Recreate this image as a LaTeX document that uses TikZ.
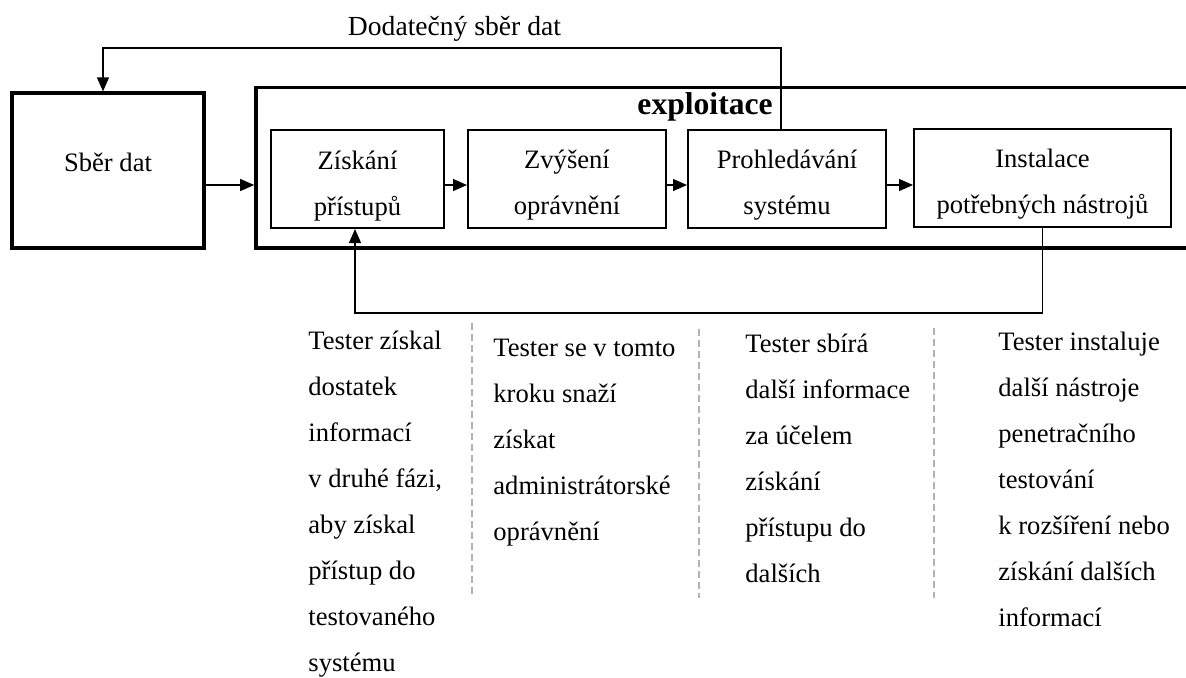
\documentclass[tikz,border=0pt]{standalone}
\usepackage{fontspec}
\setmainfont{Liberation Serif}
\usetikzlibrary{arrows.meta,positioning,calc}

\newcommand{\twolines}[2]{\rule{0pt}{16.2pt}#1\\#2\rule[-3pt]{0pt}{3pt}}

\begin{document}
\begin{tikzpicture}[
x=0.5pt, y=-0.5pt,
>={Triangle[length=7pt,width=6pt]},
txt/.style = {font=\fontsize{13.3pt}{23pt}\selectfont},
phase-node/.style = {rectangle,draw=black,line width=1pt,minimum height=49pt,align=center,inner sep=0pt,txt},
note-node/.style = {anchor=north west,align=left,inner sep=0pt,txt},
link/.style = {->,line width=0.6pt},
sep-line/.style = {draw=gray!60,line width=0.6pt,dash pattern=on 3.5pt off 2pt}
]

\clip (0,0) rectangle (1186,677);

% boxes
\node [rectangle,draw,line width=1.6pt,minimum width=96pt,minimum height=77.5pt,text height=5pt,text depth=4.5pt,txt] (sber) at (108,170.5) {Sběr dat};
\node [rectangle,draw,line width=1.8pt,minimum width=470pt,minimum height=80.25pt] (expl) at (726,167.75) {};
\node [anchor=base east,inner sep=0pt,font=\bfseries\fontsize{15.8pt}{18pt}\selectfont] (expl-label) at (773,114) {exploitace};

\node [phase-node,minimum width=86.5pt] (prist) at (357.5,179) {\twolines{Získání}{přístupů}};
\node [phase-node,minimum width=99pt] (opr) at (567,178.5) {\twolines{Zvýšení}{oprávnění}};
\node [phase-node,minimum width=99pt] (prohl) at (787,178.5) {\twolines{Prohledávání}{systému}};
\node [phase-node,minimum width=128.5pt] (instal) at (1042.5,177.5) {\twolines{Instalace}{potřebných nástrojů}};

% arrows
\coordinate (mid) at (0,185);
\draw[link] (sber.east |- mid) -- (expl.west |- mid);
\draw[link] (prist.east |- mid) -- (opr.west |- mid);
\draw[link] (opr.east |- mid) -- (prohl.west |- mid);
\draw[link] (prohl.east |- mid) -- (instal.west |- mid);

% feedback loops
\coordinate (fbtop) at (781,48);
\coordinate (fbtopl) at (103,48);
\draw[link] (prohl.north -| fbtop) -- (fbtop) -- (fbtopl) -- (sber.north -| fbtopl);
\node [anchor=base,inner sep=0pt,font=\fontsize{13.8pt}{16pt}\selectfont] (fb-label) at (454.5,35) {Dodatečný sběr dat};

\coordinate (fbbot) at (355,313);
\draw[link] (instal.south) |- (fbbot) -- (prist.south -| fbbot);

% notes
\node [note-node] (note1) at (308,331) {Tester získal\\dostatek\\informací\\v druhé fázi,\\aby získal\\přístup do\\testovaného\\systému};
\node [note-node] (note2) at (493,339) {Tester se v tomto\\kroku snaží\\získat\\administrátorské\\oprávnění};
\node [note-node] (note3) at (745,334) {Tester sbírá\\další informace\\za účelem\\získání\\přístupu do\\dalších};
\node [note-node] (note4) at (998,332) {Tester instaluje\\další nástroje\\penetračního\\testování\\k rozšíření nebo\\získání dalších\\informací};

\foreach \x/\a/\b in {472/323/594, 699/329/598, 934/328/598}
  \draw[sep-line] (\x,\a) -- (\x,\b);

\end{tikzpicture}
\end{document}
